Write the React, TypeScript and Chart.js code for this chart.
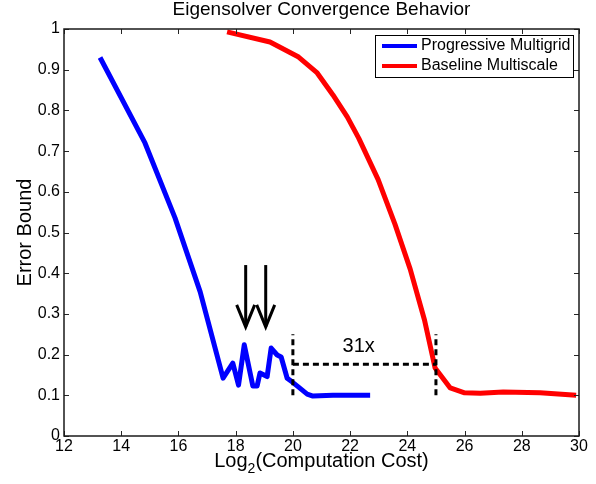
import React, { useEffect, useRef } from 'react';
import { Chart, registerables } from 'chart.js';

Chart.register(...registerables);

const FONT = '"Liberation Sans", Arial, Helvetica, sans-serif';

const titleText = 'Eigensolver Convergence Behavior';
const xLabelMain = 'Log';
const xLabelSub = '2';
const xLabelRest = '(Computation Cost)';
const yLabelText = 'Error Bound';

const xTicks = [12, 14, 16, 18, 20, 22, 24, 26, 28, 30];
const xTickLabels = ['12', '14', '16', '18', '20', '22', '24', '26', '28', '30'];
const yTicks = [0, 0.1, 0.2, 0.3, 0.4, 0.5, 0.6, 0.7, 0.8, 0.9, 1];
const yTickLabels = ['0', '0.1', '0.2', '0.3', '0.4', '0.5', '0.6', '0.7', '0.8', '0.9', '1'];

const seriesNames = ['Progressive Multigrid', 'Baseline Multiscale'];
const seriesColors = ['#0000ff', '#ff0000'];

const progressiveX = [13.26, 14.83, 15.88, 16.76, 17.56, 17.9, 18.1, 18.3, 18.6, 18.75, 18.85, 19.1, 19.24, 19.45, 19.59, 19.8, 19.97, 20.2, 20.5, 20.7, 21.4, 22.7];
const progressiveY = [0.93, 0.72, 0.536, 0.354, 0.142, 0.179, 0.125, 0.224, 0.123, 0.123, 0.155, 0.146, 0.216, 0.199, 0.194, 0.142, 0.133, 0.12, 0.103, 0.098, 0.1, 0.1];

const baselineX = [17.7, 19.2, 20.2, 20.85, 21.4, 21.9, 22.3, 22.98, 23.57, 24.1, 24.6, 24.97, 25.5, 26.0, 26.55, 27.35, 28.64, 29.9];
const baselineY = [0.993, 0.968, 0.931, 0.892, 0.838, 0.784, 0.732, 0.63, 0.52, 0.41, 0.285, 0.167, 0.118, 0.106, 0.105, 0.108, 0.106, 0.1];

const gapX = [20, 25];
const gapYLow = 0.1;
const gapYHigh = 0.25;
const gapYLevel = 0.176;
const gapLabel = '31x';
const gapLabelX = 22.3;
const gapLabelY = 0.219;

const arrowX = [18.35, 19.05];
const arrowFromY = 0.42;
const arrowToY = 0.268;

const decorPlugin = {
  id: 'decor',
  afterDraw(chart: any) {
    const { ctx, chartArea: a, scales } = chart;
    const x = scales.x;
    const y = scales.y;
    ctx.save();

    // inward tick marks on all four sides
    ctx.strokeStyle = '#262626';
    ctx.lineWidth = 1;
    ctx.beginPath();
    xTicks.forEach((v) => {
      const px = Math.round(x.getPixelForValue(v)) + 0.5;
      ctx.moveTo(px, a.bottom);
      ctx.lineTo(px, a.bottom - 5);
      ctx.moveTo(px, a.top);
      ctx.lineTo(px, a.top + 5);
    });
    yTicks.forEach((v) => {
      const py = Math.round(y.getPixelForValue(v)) + 0.5;
      ctx.moveTo(a.left, py);
      ctx.lineTo(a.left + 5, py);
      ctx.moveTo(a.right, py);
      ctx.lineTo(a.right - 5, py);
    });
    ctx.stroke();

    // frame
    ctx.strokeStyle = '#1a1a1a';
    ctx.lineWidth = 1.5;
    ctx.strokeRect(a.left, a.top, a.right - a.left, a.bottom - a.top);

    // arrows
    ctx.strokeStyle = '#000';
    ctx.lineWidth = 3;
    ctx.lineCap = 'butt';
    ctx.lineJoin = 'miter';
    arrowX.forEach((v) => {
      const px = x.getPixelForValue(v);
      const y0 = y.getPixelForValue(arrowFromY);
      const y1 = y.getPixelForValue(arrowToY);
      ctx.beginPath();
      ctx.moveTo(px, y0);
      ctx.lineTo(px, y1);
      ctx.stroke();
      ctx.beginPath();
      ctx.moveTo(px - 9, y1 - 22);
      ctx.lineTo(px, y1);
      ctx.lineTo(px + 9, y1 - 22);
      ctx.stroke();
    });

    // gap label
    ctx.fillStyle = '#000';
    ctx.font = `20px ${FONT}`;
    ctx.textAlign = 'center';
    ctx.textBaseline = 'middle';
    ctx.fillText(gapLabel, x.getPixelForValue(gapLabelX), y.getPixelForValue(gapLabelY));

    // legend
    const bw = 198;
    const bh = 42;
    const bx = a.right - 6 - bw;
    const by = a.top + 6;
    ctx.fillStyle = '#fff';
    ctx.fillRect(bx, by, bw, bh);
    ctx.strokeStyle = '#000';
    ctx.lineWidth = 1;
    ctx.strokeRect(bx + 0.5, by + 0.5, bw, bh);
    ctx.font = `16px ${FONT}`;
    ctx.textAlign = 'left';
    ctx.textBaseline = 'middle';
    seriesNames.forEach((name, i) => {
      const ly = by + 11 + i * 20;
      ctx.strokeStyle = seriesColors[i];
      ctx.lineWidth = 4;
      ctx.beginPath();
      ctx.moveTo(bx + 7, ly);
      ctx.lineTo(bx + 42, ly);
      ctx.stroke();
      ctx.fillStyle = '#000';
      ctx.fillText(name, bx + 46, ly);
    });

    // title
    const cx = (a.left + a.right) / 2;
    ctx.fillStyle = '#000';
    ctx.font = `19px ${FONT}`;
    ctx.textAlign = 'center';
    ctx.textBaseline = 'alphabetic';
    ctx.fillText(titleText, cx, 15);

    // x label with subscript
    const mainFont = `20px ${FONT}`;
    const subFont = `14px ${FONT}`;
    ctx.font = mainFont;
    const w1 = ctx.measureText(xLabelMain).width;
    const w3 = ctx.measureText(xLabelRest).width;
    ctx.font = subFont;
    const w2 = ctx.measureText(xLabelSub).width;
    let sx = cx - (w1 + w2 + w3) / 2;
    const base = 467;
    ctx.textAlign = 'left';
    ctx.font = mainFont;
    ctx.fillText(xLabelMain, sx, base);
    sx += w1;
    ctx.font = subFont;
    ctx.fillText(xLabelSub, sx, base + 6);
    sx += w2;
    ctx.font = mainFont;
    ctx.fillText(xLabelRest, sx, base);

    // y label
    ctx.save();
    ctx.translate(31, (a.top + a.bottom) / 2);
    ctx.rotate(-Math.PI / 2);
    ctx.font = mainFont;
    ctx.textAlign = 'center';
    ctx.textBaseline = 'alphabetic';
    ctx.fillText(yLabelText, 0, 0);
    ctx.restore();

    ctx.restore();
  },
};

export default function App() {
  const ref = useRef<HTMLCanvasElement | null>(null);

  useEffect(() => {
    if (!ref.current) return;
    const toPts = (xs: number[], ys: number[]) => xs.map((v, i) => ({ x: v, y: ys[i] }));
    const dashStyle = {
      borderColor: '#000',
      borderWidth: 3,
      borderDash: [6, 4],
      pointRadius: 0,
      fill: false,
      tension: 0,
      order: 0,
    };
    const chart = new Chart(ref.current, {
      type: 'line',
      data: {
        datasets: [
          {
            label: seriesNames[0],
            data: toPts(progressiveX, progressiveY),
            borderColor: seriesColors[0],
            borderWidth: 5,
            pointRadius: 0,
            tension: 0,
            fill: false,
            borderJoinStyle: 'round',
            order: 1,
          },
          {
            label: seriesNames[1],
            data: toPts(baselineX, baselineY),
            borderColor: seriesColors[1],
            borderWidth: 5,
            pointRadius: 0,
            tension: 0,
            fill: false,
            borderJoinStyle: 'round',
            order: 1,
          },
          { label: 'gapLeft', data: [{ x: gapX[0], y: gapYLow }, { x: gapX[0], y: gapYHigh }], ...dashStyle },
          { label: 'gapRight', data: [{ x: gapX[1], y: gapYLow }, { x: gapX[1], y: gapYHigh }], ...dashStyle },
          { label: 'gapLevel', data: [{ x: gapX[0], y: gapYLevel }, { x: gapX[1], y: gapYLevel }], ...dashStyle },
        ] as any,
      },
      options: {
        animation: false,
        responsive: false,
        events: [],
        layout: { padding: { top: 29, right: 17, left: 0, bottom: 0 } },
        plugins: {
          legend: { display: false },
          title: { display: false },
          tooltip: { enabled: false },
        },
        scales: {
          x: {
            type: 'linear',
            min: 12,
            max: 30,
            grid: { display: false, drawTicks: false },
            border: { display: false },
            afterBuildTicks: (s: any) => {
              s.ticks = xTicks.map((v) => ({ value: v }));
            },
            afterFit: (s: any) => {
              s.height = 48;
            },
            ticks: {
              padding: 1,
              color: '#000',
              font: { family: FONT, size: 16 },
              maxRotation: 0,
              autoSkip: false,
              callback: (_v: any, i: number) => xTickLabels[i],
            },
          },
          y: {
            type: 'linear',
            min: 0,
            max: 1,
            grid: { display: false, drawTicks: false },
            border: { display: false },
            afterBuildTicks: (s: any) => {
              s.ticks = yTicks.map((v) => ({ value: v }));
            },
            afterFit: (s: any) => {
              s.width = 64;
            },
            ticks: {
              padding: 4,
              color: '#000',
              font: { family: FONT, size: 16 },
              autoSkip: false,
              callback: (_v: any, i: number) => yTickLabels[i],
            },
          },
        },
      } as any,
      plugins: [decorPlugin],
    });
    return () => chart.destroy();
  }, []);

  return (
    <canvas
      ref={ref}
      width={596}
      height={484}
      style={{ position: 'absolute', left: 0, top: 0, width: 596, height: 484, display: 'block', background: '#fff' }}
    />
  );
}
